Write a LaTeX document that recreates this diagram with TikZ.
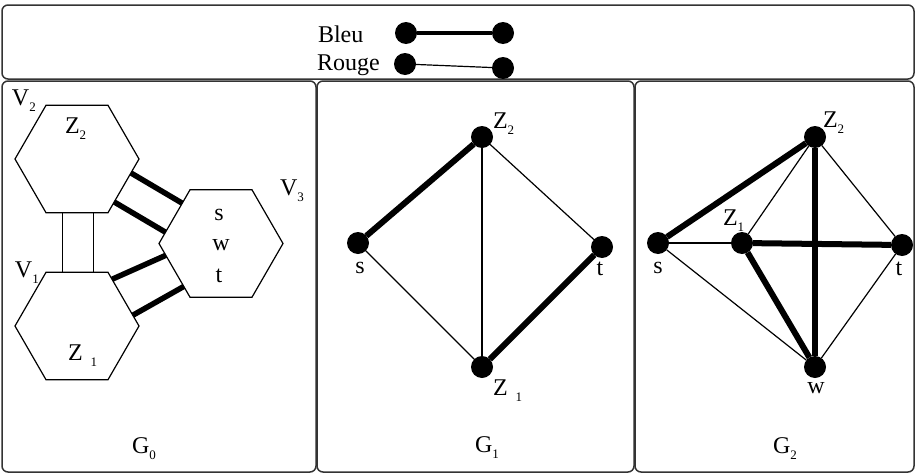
\documentclass[tikz,border=0pt]{standalone}
\usepackage{fontspec}
\setmainfont{Liberation Serif}
\usetikzlibrary{calc}
\newcommand\lbl[2]{#1\raisebox{-6pt}{\fontsize{13}{13}\selectfont #2}}
\newcommand\lblg[2]{#1\hspace{8pt}\raisebox{-6pt}{\fontsize{13}{13}\selectfont #2}}
% hexagon with flat top/bottom: name, centre x, centre y (y grows downwards)
\newcommand\hexcoords[3]{%
  \coordinate (#1) at (#2,#3);
  \coordinate (#1-r)  at ($(#1)+(62,0)$);
  \coordinate (#1-dr) at ($(#1)+(31,53.7)$);
  \coordinate (#1-dl) at ($(#1)+(-31,53.7)$);
  \coordinate (#1-l)  at ($(#1)+(-62,0)$);
  \coordinate (#1-ul) at ($(#1)+(-31,-53.7)$);
  \coordinate (#1-ur) at ($(#1)+(31,-53.7)$);
  \draw[hexline] (#1-r) -- (#1-dr) -- (#1-dl) -- (#1-l) -- (#1-ul) -- (#1-ur) -- cycle;}
\begin{document}
\begin{tikzpicture}[x=1pt,y=-1pt,
  every node/.style={inner sep=0pt, outer sep=0pt, font=\fontsize{24}{24}\selectfont},
  panel/.style={draw=black!80, line width=1.5pt, rounded corners=6pt},
  hexline/.style={line width=1.2pt, line join=miter},
  dot/.style={circle, fill=black, minimum size=22pt},
  thinedge/.style={line width=1.2pt},
  thickedge/.style={line width=6pt},
  thickbar/.style={line width=5.5pt}]
\useasboundingbox (0,0) rectangle (919,474);

% frames
\draw[panel] (2,5) rectangle (914,79);
\draw[panel] (2,81) rectangle (316,472);
\draw[panel] (317,81) rectangle (634,472);
\draw[panel] (635,81) rectangle (914,472);

% legend
\node[anchor=base west] (tbleu) at (318,42) {Bleu};
\node[anchor=base west] (trouge) at (317,70) {Rouge};
\node[dot] (b1) at (406,33) {};
\node[dot] (b2) at (503,33) {};
\node[dot] (r1) at (405,64) {};
\node[dot] (r2) at (503,68) {};
\draw[line width=4pt] (b1) -- (b2);
\draw[thinedge] (r1) -- (r2);

% G0
\hexcoords{v2}{77}{159}
\hexcoords{z1h}{77}{326}
\hexcoords{v3}{221}{243.5}
\draw[thinedge] ($(v2-dl)!0.26!(v2-dr)$) -- ($(z1h-ul)!0.26!(z1h-ur)$);
\draw[thinedge] ($(v2-dl)!0.76!(v2-dr)$) -- ($(z1h-ul)!0.76!(z1h-ur)$);
\draw[thickbar] ($(v2-r)!0.26!(v2-dr)$) -- ($(v3-l)!0.75!(v3-ul)$);
\draw[thickbar] ($(v2-r)!0.80!(v2-dr)$) -- ($(v3-l)!0.21!(v3-ul)$);
\draw[thickbar] ($(z1h-ur)!0.13!(z1h-r)$) -- ($(v3-l)!0.22!(v3-dl)$);
\draw[thickbar] ($(z1h-ur)!0.80!(z1h-r)$) -- ($(v3-l)!0.80!(v3-dl)$);
\node[anchor=base west] (lv2) at (12,105) {\lbl{V}{2}};
\node[anchor=base west] (lz2) at (65,133) {\lbl{Z}{2}};
\node[anchor=base west] (lv3) at (280,195) {\lbl{V}{3}};
\node[anchor=base west] (lv1) at (15,277) {\lbl{V}{1}};
\node[anchor=base west] (lz1) at (68,360) {\lblg{Z}{1}};
\node[anchor=base] (ls) at (219,220) {s};
\node[anchor=base] (lw) at (221,250) {w};
\node[anchor=base] (lt) at (219,282) {t};
\node[anchor=base west] (lg0) at (132,453) {\lbl{G}{0}};

% G1
\node[dot] (as) at (358,243) {};
\node[dot] (az2) at (482,137) {};
\node[dot] (at) at (602,247) {};
\node[dot] (az1) at (482,367) {};
\draw[thickedge] (as) -- (az2);
\draw[thickedge] (az1) -- (at);
\draw[thinedge] (az2) -- (az1);
\draw[thinedge] (az2) -- (at);
\draw[thinedge] (as) -- (az1);
\node[anchor=base west] (laz2) at (493,128) {\lbl{Z}{2}};
\node[anchor=base] (las) at (360,273) {s};
\node[anchor=base] (lat) at (600,275) {t};
\node[anchor=base west] (laz1) at (493,395) {\lblg{Z}{1}};
\node[anchor=base west] (lg1) at (475,452) {\lbl{G}{1}};

% G2
\node[dot] (bs) at (658,243) {};
\node[dot] (bz1) at (742,243) {};
\node[dot] (bz2) at (815,137) {};
\node[dot] (bt) at (902,245) {};
\node[dot] (bw) at (815,367) {};
\draw[thinedge] (bs) -- (bz1);
\draw[thinedge] (bs) -- (bw);
\draw[thinedge] (bz1) -- (bz2);
\draw[thinedge] (bz2) -- (bt);
\draw[thinedge] (bt) -- (bw);
\draw[thickedge] (bs) -- (bz2);
\draw[thickedge] (bz2) -- (bw);
\draw[thickedge] (bz1) -- (bt);
\draw[thickedge] (bz1) -- (bw);
\node[anchor=base west] (lbz2) at (823,127) {\lbl{Z}{2}};
\node[anchor=base west] (lbz1) at (723,225) {\lbl{Z}{1}};
\node[anchor=base] (lbs) at (658,273) {s};
\node[anchor=base] (lbt) at (899,275) {t};
\node[anchor=base] (lbw) at (816,393) {w};
\node[anchor=base west] (lg2) at (773,453) {\lbl{G}{2}};
\end{tikzpicture}
\end{document}
